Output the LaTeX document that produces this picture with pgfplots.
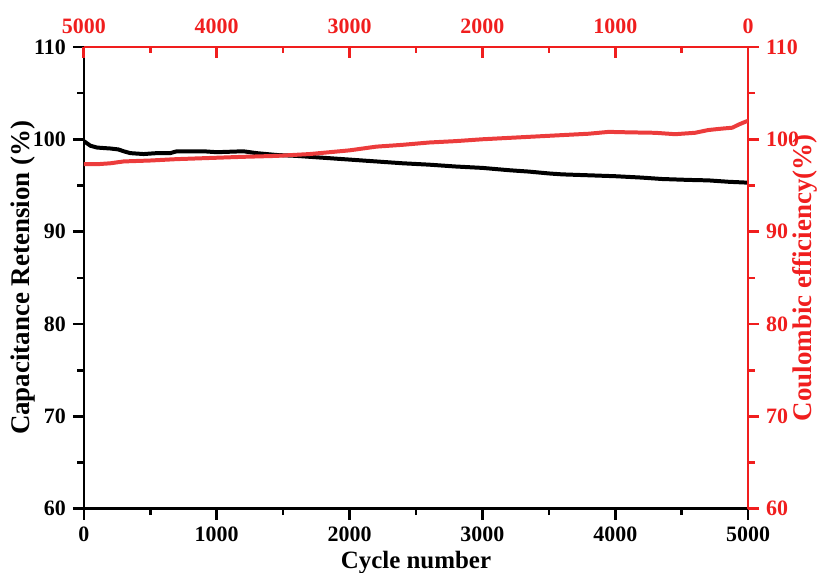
\documentclass[border=0pt]{standalone}
\usepackage{fontspec}
\setmainfont{Liberation Serif}
\usepackage{pgfplots}
\pgfplotsset{compat=1.18}
\definecolor{cered}{RGB}{240,30,30}
\definecolor{celine}{RGB}{236,60,60}

\pgfplotsset{
  common/.style={
    scale only axis,
    width=333pt, height=231.5pt,
    xmin=0, xmax=5000, ymin=60, ymax=110,
    xtick={0,1000,...,5000}, ytick={60,70,...,110},
    minor x tick num=1, minor y tick num=1,
    major tick length=5.5pt, minor tick length=3.2pt,
    tick label style={font=\fontsize{11}{12}\selectfont\bfseries},
    xlabel style={font=\fontsize{12.5}{14}\selectfont\bfseries},
    ylabel style={font=\fontsize{13.5}{15}\selectfont\bfseries},
    /pgf/number format/1000 sep={},
    /pgf/number format/assume math mode=true,
  }
}

\begin{document}
\begin{tikzpicture}
\begin{axis}[
  common,
  axis x line*=bottom, axis y line*=left,
  tick align=outside,
  axis line style={black, line width=1.3pt},
  every tick/.style={black, line width=1.3pt},
  xlabel={Cycle number},
  ylabel={Capacitance Retension (\%)},
  xlabel shift=-2pt,
  ylabel shift=-8pt,
]
  \coordinate (sw) at (rel axis cs:0,0);
  \coordinate (ne) at (rel axis cs:1,1);
  \addplot[black, line width=2pt] coordinates {
    (0,99.8)(20,99.6)(50,99.3)(100,99.1)(200,99.0)(260,98.9)(300,98.7)
    (350,98.5)(450,98.4)(550,98.5)(650,98.5)(700,98.7)(900,98.7)(1000,98.6)
    (1200,98.7)(1300,98.5)(1450,98.3)(1600,98.2)(1800,98.0)(2000,97.8)
    (2200,97.6)(2400,97.4)(2600,97.25)(2800,97.05)(3000,96.9)(3200,96.65)
    (3350,96.5)(3500,96.3)(3600,96.2)(3800,96.1)(4000,96.0)(4200,95.85)
    (4350,95.7)(4550,95.6)(4700,95.55)(4850,95.4)(5000,95.3)
  };
\end{axis}
\begin{axis}[
  common,
  axis x line*=top, axis y line*=right,
  x dir=reverse,
  xtick align=inside, ytick align=outside,
  axis line style={cered, line width=1.3pt},
  every tick/.style={cered, line width=1.3pt},
  tick label style={cered},
  xticklabel style={yshift=3pt},
  ylabel={Coulombic efficiency(\%)},
  ylabel style={cered},
  ylabel shift=-10pt,
]
  \addplot[celine, line width=2pt] coordinates {
    (5000,97.3)(4900,97.3)(4800,97.4)(4700,97.6)(4500,97.7)(4300,97.85)
    (4000,98.0)(3800,98.1)(3550,98.2)(3300,98.4)(3000,98.8)(2800,99.2)
    (2600,99.4)(2400,99.65)(2200,99.8)(2000,100.0)(1800,100.15)(1600,100.3)
    (1400,100.45)(1200,100.6)(1050,100.8)(900,100.75)(700,100.7)(550,100.55)
    (400,100.7)(300,101.0)(200,101.15)(120,101.25)(70,101.6)(20,101.9)(0,102.0)
  };
\end{axis}
\pgfresetboundingbox
\path[use as bounding box] ([shift={(-42pt,-32pt)}]sw) rectangle ([shift={(38pt,23.5pt)}]ne);
\end{tikzpicture}
\end{document}
